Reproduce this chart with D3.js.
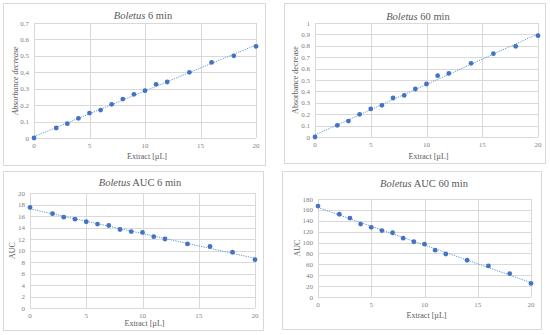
<!DOCTYPE html>
<html>
<head>
<meta charset="utf-8">
<script src="https://cdn.jsdelivr.net/npm/d3@7"></script>
<style>
body { margin: 0; background: #fff; }
svg text { font-family: "Liberation Serif", "DejaVu Serif", serif; }
</style>
</head>
<body>
<svg id="chart" width="550" height="335"></svg>
<script>
// extract volumes, same for every panel
var extract = [0, 2, 3, 4, 5, 6, 7, 8, 9, 10, 11, 12, 14, 16, 18, 20];

var abs6 = [0, 0.061, 0.087, 0.12, 0.152, 0.17, 0.205, 0.237, 0.266, 0.288, 0.327, 0.341, 0.40, 0.46, 0.50, 0.558];
var abs60 = [0, 0.102, 0.14, 0.199, 0.246, 0.278, 0.342, 0.365, 0.421, 0.465, 0.538, 0.558, 0.646, 0.731, 0.795, 0.889];
var auc6 = [17.5, 16.4, 15.8, 15.45, 15.0, 14.6, 14.35, 13.65, 13.3, 13.15, 12.4, 12.0, 11.15, 10.7, 9.7, 8.4];
var auc60 = [167, 152, 145, 134, 128, 122, 118, 108, 101.5, 97, 86, 79, 67.5, 57, 43, 25];

var xTicks = [0, 5, 10, 15, 20];
var abs6Ticks = [0, 0.1, 0.2, 0.3, 0.4, 0.5, 0.6, 0.7];
var abs60Ticks = [0, 0.1, 0.2, 0.3, 0.4, 0.5, 0.6, 0.7, 0.8, 0.9, 1];
var auc6Ticks = [0, 2, 4, 6, 8, 10, 12, 14, 16, 18, 20];
var auc60Ticks = [0, 20, 40, 60, 80, 100, 120, 140, 160, 180];

var panels = [
  {box: [3, 3, 262, 162], plot: [34, 23, 256, 138], title: "6 min", tx: 143, ty: 19,
   ys: abs6, yt: abs6Ticks, ylab: "Absorbance decrease", yItalic: true, ylx: 15, xly: 159},
  {box: [284, 3, 261, 160], plot: [315, 23, 538, 137], title: "60 min", tx: 418, ty: 20,
   ys: abs60, yt: abs60Ticks, ylab: "Absorbance decrease", yItalic: false, ylx: 295, xly: 159},
  {box: [3, 171, 260, 159], plot: [30, 193, 255, 308], title: "AUC 6 min", tx: 140, ty: 186,
   ys: auc6, yt: auc6Ticks, ylab: "AUC", yItalic: false, ylx: 12, xly: 326},
  {box: [282, 171, 259, 158], plot: [318, 199, 531, 297], title: "AUC 60 min", tx: 424, ty: 187,
   ys: auc60, yt: auc60Ticks, ylab: "AUC", yItalic: false, ylx: 297, xly: 318}
];

var svg = d3.select("#chart");

panels.forEach(function(p) {
  var g = svg.append("g");
  g.append("rect")
    .attr("x", p.box[0] + 0.5).attr("y", p.box[1] + 0.5)
    .attr("width", p.box[2]).attr("height", p.box[3])
    .attr("fill", "#fff").attr("stroke", "#d9d9d9");

  var x = d3.scaleLinear().domain([0, 20]).range([p.plot[0], p.plot[2]]);
  var y = d3.scaleLinear().domain([0, d3.max(p.yt)]).range([p.plot[3], p.plot[1]]);

  // gridlines
  g.append("g").selectAll("line.h").data(p.yt).enter().append("line")
    .attr("x1", p.plot[0]).attr("x2", p.plot[2])
    .attr("y1", d => Math.round(y(d)) + 0.5).attr("y2", d => Math.round(y(d)) + 0.5)
    .attr("stroke", "#d9d9d9");
  g.append("g").selectAll("line.v").data(xTicks).enter().append("line")
    .attr("x1", d => Math.round(x(d)) + 0.5).attr("x2", d => Math.round(x(d)) + 0.5)
    .attr("y1", p.plot[1]).attr("y2", p.plot[3])
    .attr("stroke", "#d9d9d9");

  // tick labels
  g.append("g").selectAll("text").data(p.yt).enter().append("text")
    .attr("x", p.plot[0] - 5).attr("y", d => y(d) + 2.5)
    .attr("text-anchor", "end").attr("font-size", 7).attr("fill", "#7f7f7f")
    .text(d => d);
  g.append("g").selectAll("text").data(xTicks).enter().append("text")
    .attr("x", d => x(d)).attr("y", p.plot[3] + 10)
    .attr("text-anchor", "middle").attr("font-size", 7).attr("fill", "#7f7f7f")
    .text(d => d);

  // axis titles
  g.append("text")
    .attr("transform", "translate(" + p.ylx + "," + ((p.plot[1] + p.plot[3]) / 2) + ") rotate(-90)")
    .attr("text-anchor", "middle").attr("dy", "0.35em")
    .attr("font-size", 8).attr("fill", "#595959")
    .attr("font-style", p.yItalic ? "italic" : "normal")
    .text(p.ylab);
  g.append("text")
    .attr("x", (p.plot[0] + p.plot[2]) / 2 + 2).attr("y", p.xly)
    .attr("text-anchor", "middle").attr("font-size", 8).attr("fill", "#595959")
    .text("Extract [µL]");

  // chart title
  var t = g.append("text")
    .attr("x", p.tx).attr("y", p.ty)
    .attr("text-anchor", "middle").attr("font-size", 10.5).attr("fill", "#595959");
  t.append("tspan").attr("font-style", "italic").text("Boletus");
  t.append("tspan").text(" " + p.title);

  // linear trendline (least squares, as the spreadsheet does)
  var pts = extract.map((d, i) => [d, p.ys[i]]);
  var mx = d3.mean(extract), my = d3.mean(p.ys);
  var slope = d3.sum(pts, d => (d[0] - mx) * (d[1] - my)) / d3.sum(pts, d => (d[0] - mx) * (d[0] - mx));
  var icpt = my - slope * mx;
  var trend = [0, 20].map(d => [d, icpt + slope * d]);
  g.append("path")
    .datum(trend)
    .attr("d", d3.line().x(d => x(d[0])).y(d => y(d[1])))
    .attr("fill", "none").attr("stroke", "#5b9bd5")
    .attr("stroke-width", 1).attr("stroke-dasharray", "1.2,1.2");

  g.append("g").selectAll("circle").data(pts).enter().append("circle")
    .attr("cx", d => x(d[0])).attr("cy", d => y(d[1]))
    .attr("r", 2.4).attr("fill", "#4472c4");
});
</script>
</body>
</html>
